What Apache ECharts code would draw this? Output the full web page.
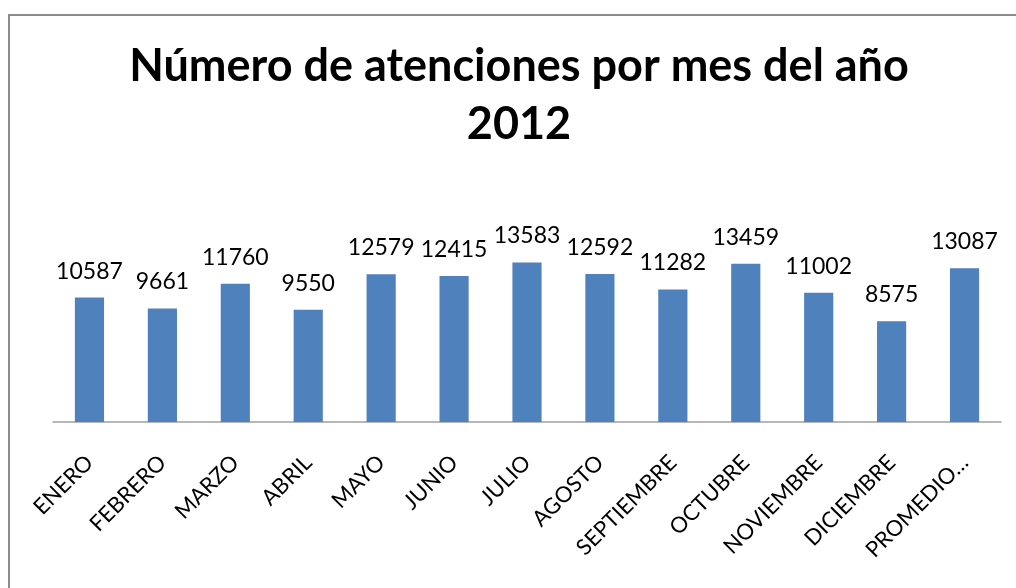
<!DOCTYPE html>
<html>
<head>
<meta charset="utf-8">
<script src="https://cdn.jsdelivr.net/npm/echarts@6/dist/echarts.min.js"></script>
<style>
  html, body { margin: 0; padding: 0; background: #fff; }
  #chart { width: 1016px; height: 588px; }
</style>
</head>
<body>
<div id="chart"></div>
<script>
const meses = ["ENERO", "FEBRERO", "MARZO", "ABRIL", "MAYO", "JUNIO", "JULIO",
  "AGOSTO", "SEPTIEMBRE", "OCTUBRE", "NOVIEMBRE", "DICIEMBRE", "PROMEDIO…"];
const atenciones = [10587, 9661, 11760, 9550, 12579, 12415, 13583,
  12592, 11282, 13459, 11002, 8575, 13087];

const chart = echarts.init(document.getElementById("chart"));

const option = {
  backgroundColor: "#ffffff",
  animation: false,
  title: {
    text: "Número de atenciones por mes del año\n2012",
    left: 519,
    textAlign: "center",
    top: 37,
    padding: 0,
    textStyle: {
      fontFamily: "Lato",
      fontWeight: "bold",
      fontSize: 45,
      lineHeight: 58,
      color: "#000",
    },
  },
  graphic: [
    {
      type: "polyline",
      shape: { points: [[9, 588], [9, 15], [1016, 15]] },
      style: { stroke: "#8c8c8c", lineWidth: 2, fill: null },
    },
  ],
  grid: {
    left: 53,
    right: 15,
    top: 234,
    bottom: 166,
  },
  xAxis: {
    type: "category",
    data: meses,
    axisLine: { lineStyle: { color: "#a0a0a0", width: 1.5 } },
    axisTick: { show: false },
    axisLabel: {
      rotate: 45,
      interval: 0,
      margin: 37,
      fontFamily: "Lato",
      fontSize: 22,
      color: "#000",
    },
  },
  yAxis: {
    type: "value",
    min: 0,
    max: 16000,
    show: false,
    splitLine: { show: false },
  },
  series: [
    {
      name: "Atenciones",
      type: "bar",
      data: atenciones,
      barWidth: "40%",
      itemStyle: { color: "#4f81bd" },
      label: {
        show: true,
        position: "top",
        distance: 15,
        fontFamily: "Lato",
        fontSize: 23,
        color: "#000",
      },
    },
  ],
};

chart.setOption(option);
</script>
</body>
</html>
